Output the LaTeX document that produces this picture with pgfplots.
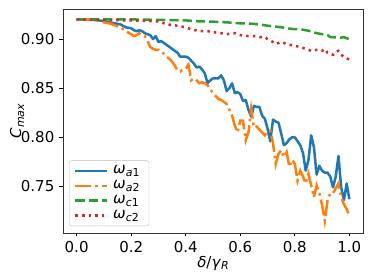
\documentclass[border=0pt]{standalone}
\usepackage{pgfplots}
\pgfplotsset{compat=1.18}
\usepackage{fontspec}
\setmainfont{DejaVu Sans}
\definecolor{tabblue}{HTML}{1F77B4}
\definecolor{taborange}{HTML}{FF7F0E}
\definecolor{tabgreen}{HTML}{2CA02C}
\definecolor{tabred}{HTML}{D62728}
\newcommand\sub[1]{\raisebox{-0.35ex}{\fontsize{11bp}{12bp}\selectfont #1}}
\newcommand\om[1]{\textit{ω}\sub{#1}}
\begin{document}
\fontsize{15bp}{18bp}\selectfont
\begin{tikzpicture}
\useasboundingbox (-63bp,-47bp) rectangle (311bp,233bp);
\begin{axis}[
  scale only axis, width=300bp, height=224bp,
  at={(0,0)}, anchor=south west,
  xmin=-0.05, xmax=1.05, ymin=0.7026, ymax=0.9306,
  xtick={0,0.2,0.4,0.6,0.8,1.0},
  ytick={0.75,0.80,0.85,0.90},
  xticklabel style={/pgf/number format/.cd,fixed,fixed zerofill,precision=1},
  yticklabel style={/pgf/number format/.cd,fixed,fixed zerofill,precision=2},
  /pgf/number format/assume math mode=true,
  tick align=outside, xtick pos=bottom, ytick pos=left,
  major tick length=3.5bp,
  tick style={black, line width=0.8bp},
  axis line style={black!80, line width=0.8bp},
  ticklabel style={font=\fontsize{15bp}{18bp}\selectfont},
  xlabel={\textit{δ}/\textit{γ}\sub{\textit{R}}},
  ylabel={\textit{C}\sub{\textit{max}}},
  xlabel style={at={(axis description cs:0.5,-0.134)}, anchor=center},
  ylabel style={at={(axis description cs:-0.153,0.5)}, anchor=center},
  legend style={at={(axis description cs:0.02,0.031)}, anchor=south west, draw=black!25, rounded corners=2.5bp,
     fill=white, fill opacity=0.8, text opacity=1, draw opacity=1, font=\fontsize{15bp}{18bp}\selectfont,
     inner xsep=5bp, inner ysep=3bp, row sep=0.5bp, nodes={inner xsep=4.5bp}},
  legend cell align=left,
  legend image code/.code={\draw[#1] (0bp,0bp) -- (32bp,0bp);},
  line cap=butt,
]
\addplot[tabblue, line width=2.5bp, line join=round] coordinates {
(0.00,0.920)(0.02,0.920)(0.04,0.920)(0.06,0.9195)(0.08,0.919)(0.10,0.9185)(0.12,0.917)(0.14,0.916)(0.16,0.915)(0.18,0.912)
(0.20,0.911)(0.21,0.909)(0.22,0.908)(0.23,0.909)(0.24,0.908)(0.25,0.906)(0.26,0.905)(0.27,0.904)(0.28,0.900)(0.29,0.903)
(0.30,0.897)(0.31,0.898)(0.32,0.896)(0.33,0.894)(0.34,0.892)(0.35,0.890)(0.36,0.888)(0.37,0.886)(0.38,0.882)(0.39,0.882)
(0.40,0.882)(0.41,0.881)(0.42,0.878)(0.43,0.875)(0.44,0.871)(0.45,0.872)(0.46,0.869)(0.47,0.865)(0.48,0.855)(0.49,0.858)
(0.50,0.860)(0.51,0.860)(0.52,0.860)(0.53,0.863)(0.54,0.858)(0.55,0.847)(0.56,0.850)(0.57,0.855)(0.58,0.845)(0.59,0.846)
(0.60,0.844)(0.61,0.837)(0.62,0.838)(0.63,0.828)(0.64,0.821)(0.65,0.832)(0.66,0.831)(0.67,0.831)(0.68,0.822)(0.69,0.819)
(0.70,0.809)(0.71,0.796)(0.72,0.818)(0.73,0.816)(0.74,0.815)(0.75,0.804)(0.76,0.792)(0.77,0.794)(0.78,0.798)(0.79,0.800)
(0.80,0.800)(0.81,0.796)(0.82,0.792)(0.83,0.784)(0.84,0.766)(0.85,0.777)(0.86,0.802)(0.87,0.790)(0.88,0.762)(0.89,0.771)
(0.90,0.766)(0.91,0.764)(0.92,0.764)(0.93,0.760)(0.94,0.749)(0.95,0.760)(0.96,0.781)(0.97,0.749)(0.98,0.736)(0.99,0.753)
(1.00,0.737)};
\addlegendentry{\om{\textit{a}1}}
\addplot[taborange, line width=2.5bp, dash pattern=on 16bp off 4bp on 2.5bp off 4bp] coordinates {
(0.00,0.920)(0.04,0.920)(0.08,0.919)(0.10,0.917)(0.12,0.916)(0.14,0.914)(0.16,0.912)(0.18,0.908)
(0.20,0.905)(0.21,0.903)(0.22,0.904)(0.23,0.906)(0.24,0.904)(0.25,0.903)(0.26,0.898)(0.27,0.892)(0.28,0.890)(0.29,0.889)
(0.30,0.889)(0.31,0.887)(0.32,0.885)(0.33,0.882)(0.34,0.880)(0.35,0.877)(0.36,0.873)(0.37,0.868)(0.38,0.867)(0.39,0.869)
(0.40,0.870)(0.41,0.874)(0.42,0.858)(0.43,0.860)(0.44,0.858)(0.45,0.855)(0.46,0.856)(0.47,0.855)(0.48,0.853)(0.49,0.849)
(0.50,0.845)(0.51,0.842)(0.52,0.839)(0.53,0.838)(0.54,0.836)(0.55,0.834)(0.56,0.828)(0.57,0.822)(0.58,0.812)(0.59,0.805)
(0.60,0.817)(0.61,0.817)(0.62,0.797)(0.63,0.805)(0.64,0.829)(0.65,0.810)(0.66,0.811)(0.67,0.808)(0.68,0.805)(0.69,0.802)
(0.70,0.805)(0.71,0.807)(0.72,0.794)(0.73,0.773)(0.74,0.783)(0.75,0.787)(0.76,0.780)(0.77,0.785)(0.78,0.770)(0.79,0.777)
(0.80,0.773)(0.81,0.756)(0.82,0.766)(0.83,0.760)(0.84,0.753)(0.85,0.763)(0.86,0.751)(0.87,0.739)(0.88,0.751)(0.89,0.743)
(0.90,0.731)(0.91,0.715)(0.92,0.736)(0.93,0.743)(0.94,0.743)(0.95,0.748)(0.96,0.753)(0.97,0.739)(0.98,0.732)(0.99,0.727)
(1.00,0.720)};
\addlegendentry{\om{\textit{a}2}}
\addplot[tabgreen, line width=2.5bp, dash pattern=on 9.25bp off 4bp] coordinates {
(0.00,0.920)(0.10,0.920)(0.20,0.920)(0.30,0.9195)(0.40,0.919)(0.45,0.918)(0.50,0.9177)(0.55,0.917)(0.60,0.916)(0.65,0.9155)
(0.70,0.9136)(0.72,0.913)(0.75,0.912)(0.77,0.911)(0.80,0.910)(0.82,0.910)(0.85,0.9085)(0.88,0.906)(0.90,0.905)(0.92,0.904)
(0.93,0.902)(0.95,0.9017)(0.97,0.9015)(0.98,0.902)(1.00,0.8997)};
\addlegendentry{\om{\textit{c}1}}
\addplot[tabred, line width=2.5bp, dash pattern=on 2.5bp off 4.1bp] coordinates {
(0.00,0.920)(0.10,0.9195)(0.20,0.919)(0.25,0.9185)(0.30,0.918)(0.33,0.915)(0.36,0.914)(0.40,0.912)(0.42,0.910)(0.45,0.908)
(0.48,0.908)(0.50,0.907)(0.53,0.906)(0.55,0.905)(0.58,0.906)(0.60,0.904)(0.63,0.903)(0.65,0.903)(0.67,0.902)(0.69,0.902)
(0.70,0.900)(0.72,0.897)(0.73,0.895)(0.75,0.897)(0.77,0.895)(0.80,0.893)(0.82,0.892)(0.84,0.890)(0.86,0.888)(0.88,0.889)
(0.90,0.888)(0.91,0.890)(0.92,0.886)(0.94,0.884)(0.95,0.887)(0.96,0.888)(0.97,0.884)(0.98,0.882)(1.00,0.879)};
\addlegendentry{\om{\textit{c}2}}
\end{axis}
\end{tikzpicture}
\end{document}
